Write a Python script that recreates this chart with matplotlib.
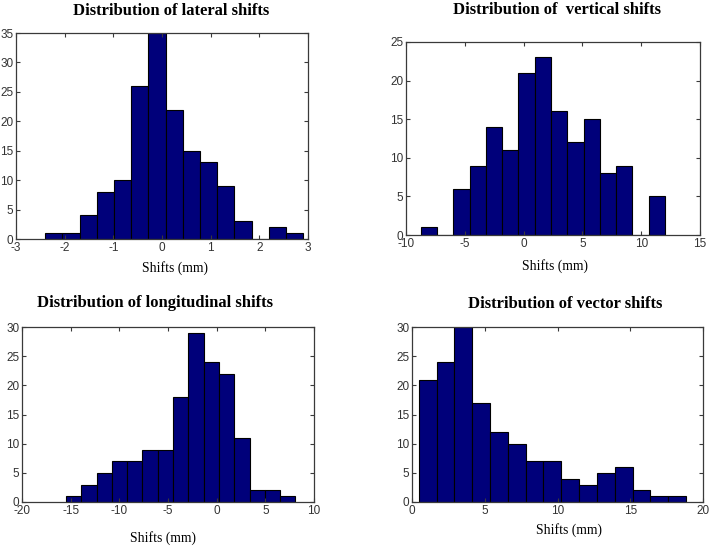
import numpy as np
import matplotlib
matplotlib.use("Agg")
import matplotlib.pyplot as plt

plt.rcParams["axes.unicode_minus"] = False

# ---- data (15 histogram bins each, counts) ----
lat_range = (-2.40, 2.90)
lat_counts = [1, 1, 4, 8, 10, 26, 35, 22, 15, 13, 9, 3, 0, 2, 1]

vert_range = (-8.75, 12.02)
vert_counts = [1, 0, 6, 9, 14, 11, 21, 23, 16, 12, 15, 8, 9, 0, 5]

long_range = (-15.48, 8.09)
long_counts = [1, 3, 5, 7, 7, 9, 9, 18, 29, 24, 22, 11, 2, 2, 1]

vec_range = (0.46, 18.83)
vec_counts = [21, 24, 30, 17, 12, 10, 7, 7, 4, 3, 5, 6, 2, 1, 1]

titles = ["Distribution of lateral shifts", "Distribution of  vertical shifts",
          "Distribution of longitudinal shifts", "Distribution of vector shifts"]
xlabel = "Shifts (mm)"

W, H = 709, 548
fig = plt.figure(figsize=(W / 100, H / 100), dpi=100)
fig.patch.set_facecolor("white")

def px_axes(l, t, r, b):
    return fig.add_axes([l / W, 1 - b / H, (r - l) / W, (b - t) / H])

panels = [
    dict(box=(16, 33, 308, 239), rng=lat_range, cnt=lat_counts,
         xlim=(-3, 3), xt=np.arange(-3, 4, 1), ylim=(0, 35), yt=np.arange(0, 36, 5),
         tpos=(171, 11), lpos=(175, 268)),
    dict(box=(406, 42, 700, 235), rng=vert_range, cnt=vert_counts,
         xlim=(-10, 15), xt=np.arange(-10, 16, 5), ylim=(0, 25), yt=np.arange(0, 26, 5),
         tpos=(557, 10), lpos=(555, 266)),
    dict(box=(22, 327, 314, 502), rng=long_range, cnt=long_counts,
         xlim=(-20, 10), xt=np.arange(-20, 11, 5), ylim=(0, 30), yt=np.arange(0, 31, 5),
         tpos=(155, 303), lpos=(163, 538)),
    dict(box=(412, 327, 703, 502), rng=vec_range, cnt=vec_counts,
         xlim=(0, 20), xt=np.arange(0, 21, 5), ylim=(0, 30), yt=np.arange(0, 31, 5),
         tpos=(565, 304), lpos=(569, 530)),
]

axcol = "#3a3a3a"
for p, title in zip(panels, titles):
    ax = px_axes(*p["box"])
    cnt = np.array(p["cnt"], dtype=float)
    edges = np.linspace(p["rng"][0], p["rng"][1], len(cnt) + 1)
    ax.bar(edges[:-1], cnt, width=np.diff(edges), align="edge",
           color="#00007a", edgecolor="black", linewidth=0.8)
    ax.set_xlim(*p["xlim"])
    ax.set_ylim(*p["ylim"])
    ax.set_xticks(p["xt"])
    ax.set_yticks(p["yt"])
    ax.tick_params(direction="in", length=3, width=0.8, color=axcol,
                   labelsize=8.5, labelcolor="#333333", top=True, right=True, pad=2)
    for lab in ax.get_xticklabels() + ax.get_yticklabels():
        lab.set_family(["Liberation Sans", "DejaVu Sans"])
    for s in ax.spines.values():
        s.set_color(axcol)
        s.set_linewidth(0.9)
    fig.text(p["tpos"][0] / W, 1 - p["tpos"][1] / H, title, ha="center", va="center",
             family="Liberation Serif", fontweight="bold", fontsize=12)
    fig.text(p["lpos"][0] / W, 1 - p["lpos"][1] / H, xlabel, ha="center", va="center",
             family="Liberation Serif", fontsize=9.8)

fig.savefig("out.png", dpi=100)
